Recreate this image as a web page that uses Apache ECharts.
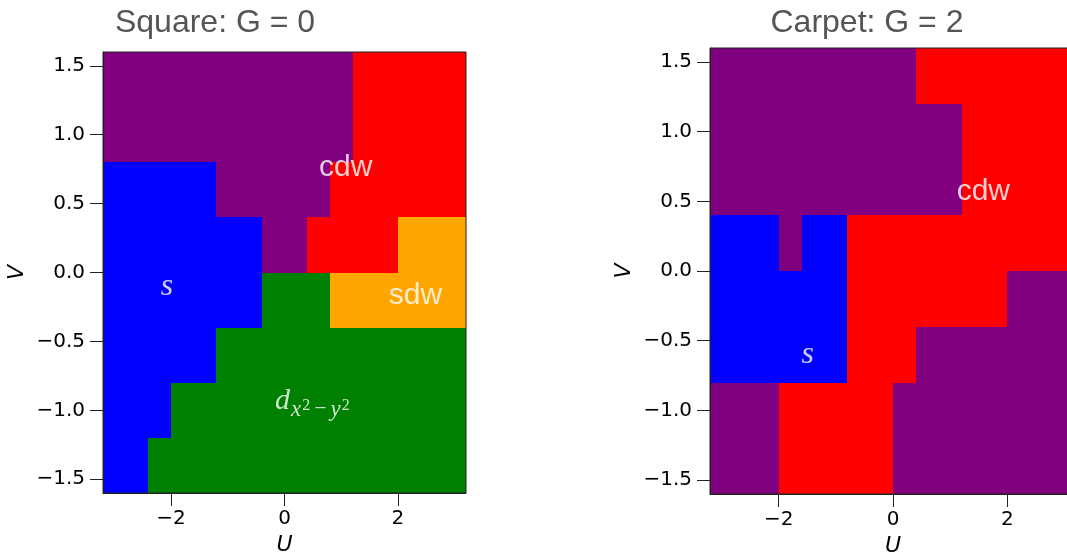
<!DOCTYPE html>
<html>
<head>
<meta charset="utf-8">
<script src="https://cdn.jsdelivr.net/npm/echarts@6/dist/echarts.min.js"></script>
<style>
html, body { margin: 0; padding: 0; background: #fff; }
#main { width: 1067px; height: 552px; }
</style>
</head>
<body>
<div id="main"></div>
<script>
// data ---------------------------------
var uCenters = [-3.0, -2.6, -2.2, -1.8, -1.4, -1.0, -0.6, -0.2, 0.2, 0.6, 1.0, 1.4, 1.8, 2.2, 2.6, 3.0];
var vCenters = [1.4, 1.0, 0.6, 0.2, -0.2, -0.6, -1.0, -1.4];
var cellHalf = 0.2;

// p = purple (unlabelled), c = cdw, m = sdw, s = s-wave, d = d-wave
var phaseKeys = ['p', 'c', 'm', 's', 'd'];
var phaseColors = ['#800080', '#ff0000', '#ffa500', '#0000ff', '#008000'];

// one string per V row, top to bottom, one letter per U column
var squareRows = [
    'pppppppppppccccc',
    'pppppppppppccccc',
    'ssssspppppcccccc',
    'sssssssppccccmmm',
    'sssssssdddmmmmmm',
    'sssssddddddddddd',
    'sssddddddddddddd',
    'ssdddddddddddddd'
];
var carpetRows = [
    'pppppppppccccccc',
    'pppppppppppccccc',
    'pppppppppppccccc',
    'ssspsscccccccccc',
    'sssssscccccccppp',
    'sssssscccppppppp',
    'pppcccccpppppppp',
    'pppcccccpppppppp'
];

var xTicks = [-2, 0, 2];
var yTicks = [-1.5, -1.0, -0.5, 0.0, 0.5, 1.0, 1.5];

var squareLabels = [
    {name: 'cdw', value: [1.08, 0.76]},
    {name: 'sdw', value: [2.31, -0.17]},
    {name: 's', value: [-2.07, -0.10]},
    {name: 'dx', value: [0.50, -0.93]}
];
var carpetLabels = [
    {name: 'cdw', value: [1.58, 0.57]},
    {name: 's', value: [-1.49, -0.60]}
];

// build ---------------------------------
function cellData(rows) {
    var out = [];
    for (var r = 0; r < rows.length; r++) {
        for (var c = 0; c < uCenters.length; c++) {
            out.push([uCenters[c], vCenters[r], phaseKeys.indexOf(rows[r].charAt(c))]);
        }
    }
    return out;
}

function renderCell(params, api) {
    var u = api.value(0), v = api.value(1);
    var p0 = api.coord([u - cellHalf, v + cellHalf]);
    var p1 = api.coord([u + cellHalf, v - cellHalf]);
    var x0 = Math.round(p0[0]), y0 = Math.round(p0[1]);
    var x1 = Math.round(p1[0]), y1 = Math.round(p1[1]);
    return {
        type: 'rect',
        shape: {x: x0, y: y0, width: x1 - x0, height: y1 - y0},
        style: {fill: phaseColors[api.value(2)]}
    };
}

function minus(s) { return String(s).replace('-', '\u2212'); }

function xAxisOf(idx) {
    return {
        gridIndex: idx, type: 'value', min: -3.2, max: 3.2, z: 5,
        name: 'U', nameLocation: 'middle', nameGap: 38,
        nameTextStyle: {fontFamily: 'DejaVu Sans', fontStyle: 'italic', fontSize: 22, color: '#000'},
        axisLine: {show: true, onZero: false, lineStyle: {color: '#222', width: 1}},
        axisTick: {show: true, inside: false, length: 13, customValues: xTicks, lineStyle: {color: '#222'}},
        axisLabel: {customValues: xTicks, margin: 16, fontFamily: 'DejaVu Sans', fontSize: 20, color: '#000',
            formatter: function (v) { return minus(v); }},
        splitLine: {show: false}
    };
}
function yAxisOf(idx) {
    return {
        gridIndex: idx, type: 'value', min: -1.6, max: 1.6, z: 5,
        name: 'V', nameLocation: 'middle', nameGap: 75,
        nameTextStyle: {fontFamily: 'DejaVu Sans', fontStyle: 'italic', fontSize: 22, color: '#000'},
        axisLine: {show: true, onZero: false, lineStyle: {color: '#222', width: 1}},
        axisTick: {show: true, inside: false, length: 13, customValues: yTicks, lineStyle: {color: '#222'}},
        axisLabel: {customValues: yTicks, margin: 18, fontFamily: 'DejaVu Sans', fontSize: 20, color: '#000',
            formatter: function (v) { return minus(v.toFixed(1)); }},
        splitLine: {show: false}
    };
}

var mathFont = 'Liberation Serif';
var labelRich = {
    txt: {fontFamily: 'Liberation Sans', fontSize: 30, color: '#fff'},
    mi: {fontFamily: mathFont, fontStyle: 'italic', fontSize: 32, color: '#fff'},
    md: {fontFamily: mathFont, fontStyle: 'italic', fontSize: 30, color: '#fff'},
    sx: {fontFamily: mathFont, fontStyle: 'italic', fontSize: 23, color: '#fff', padding: [19, 0, 0, 1]},
    sp: {fontFamily: mathFont, fontSize: 16, color: '#fff', padding: [10, 1, 0, 1]},
    sm: {fontFamily: mathFont, fontSize: 22, color: '#fff', padding: [17, 3, 0, 3]}
};
function labelText(p) {
    if (p.name === 'dx') return '{md|d}{sx|x}{sp|2}{sm|\u2212}{sx|y}{sp|2}';
    if (p.name === 's') return '{mi|s}';
    return '{txt|' + p.name + '}';
}
function labelSeries(idx, data) {
    return {
        type: 'scatter', xAxisIndex: idx, yAxisIndex: idx, symbolSize: 0, z: 10,
        data: data, silent: true,
        label: {show: true, position: 'inside', formatter: labelText, rich: labelRich}
    };
}

var myChart = echarts.init(document.getElementById('main'));
var option = {
    animation: false,
    grid: [
        {left: 103, top: 52, width: 363, height: 441, outerBoundsMode: 'none', containLabel: false,
            show: true, z: 6, borderColor: '#222', borderWidth: 1, backgroundColor: 'transparent'},
        {left: 710, top: 48, width: 366, height: 446, outerBoundsMode: 'none', containLabel: false,
            show: true, z: 6, borderColor: '#222', borderWidth: 1, backgroundColor: 'transparent'}
    ],
    xAxis: [xAxisOf(0), xAxisOf(1)],
    yAxis: [yAxisOf(0), yAxisOf(1)],
    graphic: [
        {type: 'text', x: 215, y: 23, style: {text: 'Square: G = 0', fill: '#555', font: '32px "Liberation Sans"', align: 'center', verticalAlign: 'middle'}},
        {type: 'text', x: 867, y: 23, style: {text: 'Carpet: G = 2', fill: '#555', font: '32px "Liberation Sans"', align: 'center', verticalAlign: 'middle'}}
    ],
    series: [
        {type: 'custom', xAxisIndex: 0, yAxisIndex: 0, renderItem: renderCell, data: cellData(squareRows), silent: true},
        {type: 'custom', xAxisIndex: 1, yAxisIndex: 1, renderItem: renderCell, data: cellData(carpetRows), silent: true},
        labelSeries(0, squareLabels),
        labelSeries(1, carpetLabels)
    ]
};
myChart.setOption(option);
</script>
</body>
</html>
